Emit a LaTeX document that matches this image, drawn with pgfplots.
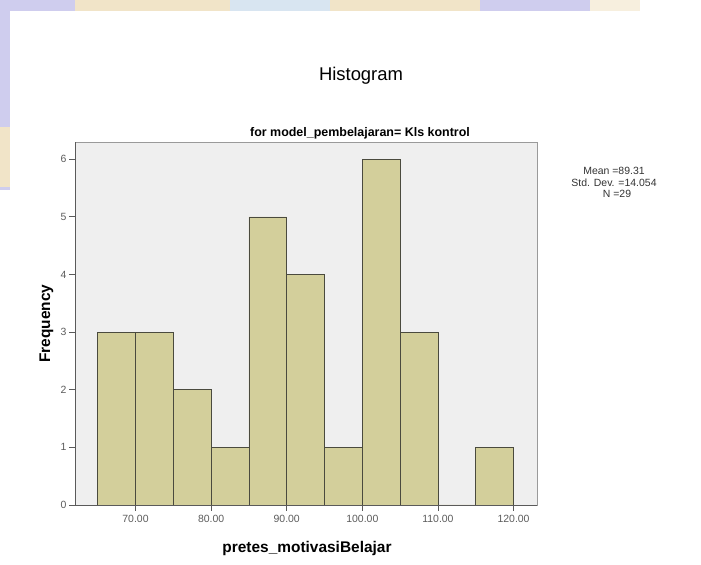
\documentclass[border=0pt]{standalone}
\usepackage{fontspec}
\setmainfont{Liberation Sans}
\usepackage{graphicx}
\usepackage{pgfplots}
\pgfplotsset{compat=1.18}

\definecolor{barfill}{HTML}{D3CF9B}
\definecolor{baredge}{HTML}{4A4A3E}
\definecolor{plotbg}{HTML}{EFEFEF}
\definecolor{framegray}{HTML}{9A9A9A}
\definecolor{axisdark}{HTML}{5A5A5A}
\definecolor{ticktext}{HTML}{5C5C5C}
\definecolor{lavender}{HTML}{CFCDEE}
\definecolor{peach}{HTML}{F1E4C8}
\definecolor{paleblue}{HTML}{D8E5F1}

\begin{document}
\begin{tikzpicture}[x=1bp,y=1bp]
  % page background with the faint banner strips
  \path[use as bounding box] (0,0) rectangle (701,565);
  \fill[white] (0,0) rectangle (701,565);
  \fill[lavender] (0,554) rectangle (701,565);
  \fill[lavender] (0,375) rectangle (10,565);
  \fill[peach] (75,554) rectangle (230,565);
  \fill[paleblue] (230,554) rectangle (330,565);
  \fill[peach] (330,554) rectangle (480,565);
  \fill[peach!60!white] (590,554) rectangle (640,565);
  \fill[white] (640,554) rectangle (701,565);
  \fill[peach] (0,378) rectangle (10,438);

  \begin{axis}[
    at={(75bp,60bp)}, anchor=south west,
    scale only axis, width=462bp, height=363bp,
    xmin=62, xmax=123.1, ymin=0, ymax=6.3,
    axis x line*=bottom, axis y line*=left,
    axis line style={axisdark, line width=0.9pt, -},
    axis background/.style={fill=plotbg},
    xtick={70,80,90,100,110,120},
    xticklabels={70.00,80.00,90.00,100.00,110.00,120.00},
    ytick={0,1,2,3,4,5,6},
    tick align=outside, major tick length=6bp,
    tick style={axisdark, line width=0.9pt},
    /pgf/number format/assume math mode=true,
    xticklabel style={font=\fontsize{10.5}{12}\selectfont, text=ticktext, yshift=-1bp},
    yticklabel style={font=\fontsize{10.5}{12}\selectfont, text=ticktext, xshift=1bp},
    clip=false,
  ]
    % frame around the plotting area
    \draw[framegray, line width=0.9pt] (rel axis cs:0,0) rectangle (rel axis cs:1,1);
    % frequencies per bin of width 5, from 65 to 120
    \addplot[ybar interval, fill=barfill, draw=baredge, line width=0.8pt]
      coordinates {
        (65,3) (70,3) (75,2) (80,1) (85,5) (90,4) (95,1)
        (100,6) (105,3) (110,0) (115,1) (120,0)
      };
    \draw[axisdark, line width=0.9pt] (rel axis cs:0,0) -- (rel axis cs:1,0);
    \draw[axisdark, line width=0.9pt] (rel axis cs:0,0) -- (rel axis cs:0,1);
  \end{axis}

  % titles
  \node[anchor=base] at (361,484) {\fontsize{18.5}{20}\selectfont Histogram};
  \node[anchor=base] at (360,428) {\fontsize{12.5}{14}\selectfont\bfseries for model\_pembelajaran= Kls kontrol};

  % summary statistics
  \node[anchor=base, text=black!80] at (614,390) {\fontsize{10.5}{12}\selectfont Mean =89.31};
  \node[anchor=base, text=black!80] at (614,378) {\fontsize{10.5}{12}\selectfont Std. Dev. =14.054};
  \node[anchor=base, text=black!80] at (617,367) {\fontsize{10.5}{12}\selectfont N =29};

  % axis labels
  \node[anchor=base] at (307,12) {\fontsize{15.5}{17}\selectfont\bfseries pretes\_motivasiBelajar};
  \node[rotate=90] at (46.5,241.5) {\fontsize{15.5}{17}\selectfont\bfseries Frequency};
\end{tikzpicture}
\end{document}
